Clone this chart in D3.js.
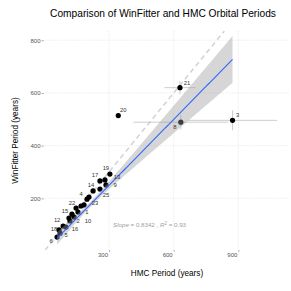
<!DOCTYPE html>
<html>
<head>
<meta charset="utf-8">
<script src="https://cdn.jsdelivr.net/npm/d3@7"></script>
<style>
  body { margin: 0; background: #fff; }
  svg { font-family: "Liberation Sans", Arial, sans-serif; }
</style>
</head>
<body>
<svg width="291" height="291"></svg>
<script>
// star ids with HMC (x) and WinFitter (y) periods in years, and their errors
const ids     = [6, 5, 18, 12, 16, 2, 15, 10, 11, 1, 22, 7, 23, 4, 24, 14, 25, 9, 17, 13, 19, 20, 21, 8, 3];
const hmc     = [59, 73, 68, 87, 100, 119, 114, 138, 128, 156, 147, 170, 184, 198, 207, 226, 258, 286, 258, 281, 304, 343, 629, 633, 873];
const winfit  = [53, 68, 80, 95, 91, 114, 125, 129, 140, 148, 163, 171, 175, 197, 205, 228, 235, 251, 266, 270, 292, 514, 620, 489, 496];
const hmcErr  = [8, 8, 8, 8, 8, 10, 10, 10, 10, 10, 10, 12, 12, 12, 12, 12, 14, 14, 14, 14, 14, 5, 72, 220, 207];
const winErr  = [6, 6, 6, 6, 6, 8, 8, 8, 8, 8, 8, 10, 10, 10, 10, 10, 10, 10, 10, 10, 10, 5, 25, 28, 38];
const hidden  = [11, 7, 24];   // labels dropped by the repel step

// fit shown on the chart
const fitSlope = 0.8342;
const fitIntercept = -1;
const fitR2 = 0.93;
const bandCentre = 220, bandMin = 10, bandGrowth = 0.135;

const xTicks = [300, 600, 900];
const yTicks = [200, 400, 600, 800];
const xDomain = [3, 1135];
const yDomain = [4, 835];

// label nudges (px) as placed in the reference
const nudge = {
  6: [-6, 4], 5: [6, 2], 18: [-5, -1], 12: [-6, -6], 16: [9, 2], 2: [8, 0], 15: [-4, -7],
  10: [14, 4], 1: [9, 0], 22: [-4, -5], 23: [11, -2], 4: [-6, -5], 14: [-2, -6], 25: [6, 6],
  9: [9, 0], 17: [-5, -6], 13: [12, -3], 19: [-4, -6], 20: [5, -6], 21: [7, -5], 8: [-6, 5], 3: [5, -5]
};

const rows = ids.map((id, i) => ({ id, x: hmc[i], y: winfit[i], xe: hmcErr[i], ye: winErr[i] }));

const svg = d3.select("svg");
const pLeft = 45, pRight = 289, pTop = 31, pBottom = 250;

const x = d3.scaleLinear().domain(xDomain).range([pLeft, pRight]);
const y = d3.scaleLinear().domain(yDomain).range([pBottom, pTop]);

const panel = svg.append("g");

// grid
panel.selectAll(".gx").data(xTicks).enter().append("line")
    .attr("x1", d => x(d)).attr("x2", d => x(d))
    .attr("y1", pTop).attr("y2", pBottom)
    .attr("stroke", "#dedede").attr("stroke-width", 0.6).attr("stroke-dasharray", "1.2,1.2");
panel.selectAll(".gy").data(yTicks).enter().append("line")
    .attr("x1", pLeft).attr("x2", pRight)
    .attr("y1", d => y(d)).attr("y2", d => y(d))
    .attr("stroke", "#dedede").attr("stroke-width", 0.6).attr("stroke-dasharray", "1.2,1.2");

// axes (ticks + labels only)
const xAxis = svg.append("g").attr("transform", `translate(0,${pBottom})`)
    .call(d3.axisBottom(x).tickValues(xTicks).tickSize(2).tickPadding(1));
xAxis.select(".domain").remove();
xAxis.selectAll("line").attr("stroke", "#666").attr("stroke-width", 0.5);
xAxis.selectAll("text").attr("fill", "#555").style("font-size", "6px")
    .attr("text-anchor", "end").attr("dx", "-1.5");

const yAxis = svg.append("g").attr("transform", `translate(${pLeft - 1},0)`)
    .call(d3.axisLeft(y).tickValues(yTicks).tickSize(2.5).tickPadding(1));
yAxis.select(".domain").remove();
yAxis.selectAll("line").attr("stroke", "#666").attr("stroke-width", 0.5);
yAxis.selectAll("text").attr("fill", "#555").style("font-size", "6px");

// identity line
svg.append("clipPath").attr("id", "clip").append("rect")
    .attr("x", pLeft).attr("y", pTop).attr("width", pRight - pLeft).attr("height", pBottom - pTop);
panel.append("line")
    .attr("clip-path", "url(#clip)")
    .attr("x1", x(xDomain[0])).attr("y1", y(xDomain[0]))
    .attr("x2", x(yDomain[1])).attr("y2", y(yDomain[1]))
    .attr("stroke", "#d4d4d4").attr("stroke-width", 1.6).attr("stroke-dasharray", "5,3.5");

// error bars
panel.selectAll(".ex").data(rows).enter().append("line")
    .attr("x1", d => x(d.x - d.xe)).attr("x2", d => x(d.x + d.xe))
    .attr("y1", d => y(d.y)).attr("y2", d => y(d.y))
    .attr("stroke", "#b8b8b8").attr("stroke-width", 0.7);
panel.selectAll(".ey").data(rows).enter().append("line")
    .attr("x1", d => x(d.x)).attr("x2", d => x(d.x))
    .attr("y1", d => y(d.y - d.ye)).attr("y2", d => y(d.y + d.ye))
    .attr("stroke", "#b8b8b8").attr("stroke-width", 0.7);

// points
panel.selectAll(".pt").data(rows).enter().append("circle")
    .attr("cx", d => x(d.x)).attr("cy", d => y(d.y)).attr("r", 2.6)
    .attr("fill", "#000");

// fit ribbon + line
const xExt = d3.extent(hmc);
const fitX = d3.range(xExt[0], xExt[1] + 0.001, (xExt[1] - xExt[0]) / 80);
const fit = v => fitIntercept + fitSlope * v;
const half = v => Math.sqrt(bandMin * bandMin + Math.pow(bandGrowth * (v - bandCentre), 2));

panel.append("path").datum(fitX)
    .attr("d", d3.area().x(d => x(d)).y0(d => y(fit(d) - half(d))).y1(d => y(fit(d) + half(d))))
    .attr("fill", "#999").attr("fill-opacity", 0.4);
panel.append("path").datum(fitX)
    .attr("d", d3.line().x(d => x(d)).y(d => y(fit(d))))
    .attr("fill", "none").attr("stroke", "#3366FF").attr("stroke-width", 1.1);

// labels
panel.selectAll(".lb").data(rows.filter(d => !hidden.includes(d.id))).enter().append("text")
    .attr("x", d => x(d.x) + nudge[d.id][0])
    .attr("y", d => y(d.y) + nudge[d.id][1])
    .attr("dy", "0.35em").attr("text-anchor", "middle")
    .style("font-size", "5.8px").attr("fill", "#333")
    .text(d => d.id);

// annotation
const ann = svg.append("text").attr("x", 113).attr("y", 227)
    .style("font-size", "6.2px").attr("fill", "#a0a0a0");
ann.append("tspan").style("font-style", "italic").text("Slope");
ann.append("tspan").text(" = " + fitSlope + " , ");
ann.append("tspan").style("font-style", "italic").text("R");
ann.append("tspan").attr("dy", -2.5).style("font-size", "4.5px").text("2");
ann.append("tspan").attr("dy", 2.5).text(" = " + fitR2);

// titles
svg.append("text").attr("x", 163).attr("y", 17)
    .attr("text-anchor", "middle").style("font-size", "10.2px").attr("fill", "#000")
    .text("Comparison of WinFitter and HMC Orbital Periods");
svg.append("text").attr("x", (pLeft + pRight) / 2).attr("y", 276)
    .attr("text-anchor", "middle").style("font-size", "8.2px").attr("fill", "#000")
    .text("HMC Period (years)");
svg.append("text").attr("transform", `translate(18,${(pTop + pBottom) / 2}) rotate(-90)`)
    .attr("text-anchor", "middle").style("font-size", "8.2px").attr("fill", "#000")
    .text("WinFitter Period (years)");
</script>
</body>
</html>
